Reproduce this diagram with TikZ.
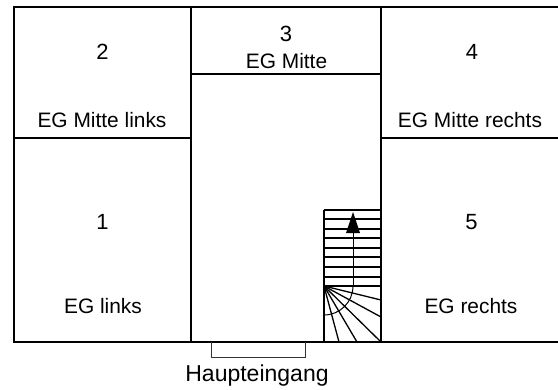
\documentclass[tikz,border=0pt]{standalone}
\usepackage{fontspec}
\setmainfont{Liberation Sans}
\tikzset{
  x=1pt,y=-1pt,
  wall/.style={line width=1.9pt,black},
  thin wall/.style={line width=1.4pt,black},
  tread/.style={line width=1.3pt,black},
  lbl/.style={font=\fontsize{20.9pt}{24pt}\selectfont,text=black,inner sep=0pt,anchor=base},
  numlbl/.style={font=\fontsize{22pt}{26pt}\selectfont,text=black,inner sep=0pt,anchor=base},
}
\begin{document}
\begin{tikzpicture}
\useasboundingbox (0,0) rectangle (558,389);
% outer walls
\coordinate (tl) at (14,7);
\coordinate (tr) at (558,7);
\coordinate (bl) at (14,342);
\coordinate (br) at (558,342);
\draw[wall,line join=miter] (tr) -- (tl) -- (bl) -- (br);
\draw[thin wall] (191,7) -- (191,342);
\draw[thin wall] (381,7) -- (381,342);
\draw[thin wall] (14,138) -- (191,138);
\draw[thin wall] (381,138) -- (558,138);
\draw[thin wall] (191,74) -- (381,74);
% entrance
\draw[line width=0.8pt,black!80] (211,342) -- (211,357) -- (305,357) -- (305,342);
% stairs
\draw[thin wall] (324,210) -- (324,342);
\foreach \y in {210,219,229,238,248,257,267,277,286}{
  \draw[tread] (324,\y) -- (381,\y);
}
\coordinate (p) at (324,286);
\foreach \x/\y in {381/300,381/317,381/342,357/342,339/342}{
  \draw[tread] (p) -- (\x,\y);
}
\draw[line width=1pt,black] (353,286) arc[start angle=0,end angle=90,x radius=29,y radius=29];
\draw[line width=1pt,black] (353,286) -- (353,232);
\fill[black] (353,212) -- (360,233) -- (346,233) -- cycle;
% labels
\node[numlbl] (n2) at (102.5,59) {2};
\node[lbl] (l2) at (102,127) {EG Mitte links};
\node[numlbl] (n1) at (102.5,229) {1};
\node[lbl] (l1) at (103,313) {EG links};
\node[numlbl] (n3) at (286,41) {3};
\node[lbl] (l3) at (286.5,68) {EG Mitte};
\node[numlbl] (n4) at (472,59) {4};
\node[lbl] (l4) at (470,127) {EG Mitte rechts};
\node[numlbl] (n5) at (471.5,229) {5};
\node[lbl] (l5) at (471,313) {EG rechts};
\node[font=\fontsize{23pt}{26pt}\selectfont,inner sep=0pt,anchor=base] (h) at (257,381) {Haupteingang};
\end{tikzpicture}
\end{document}
